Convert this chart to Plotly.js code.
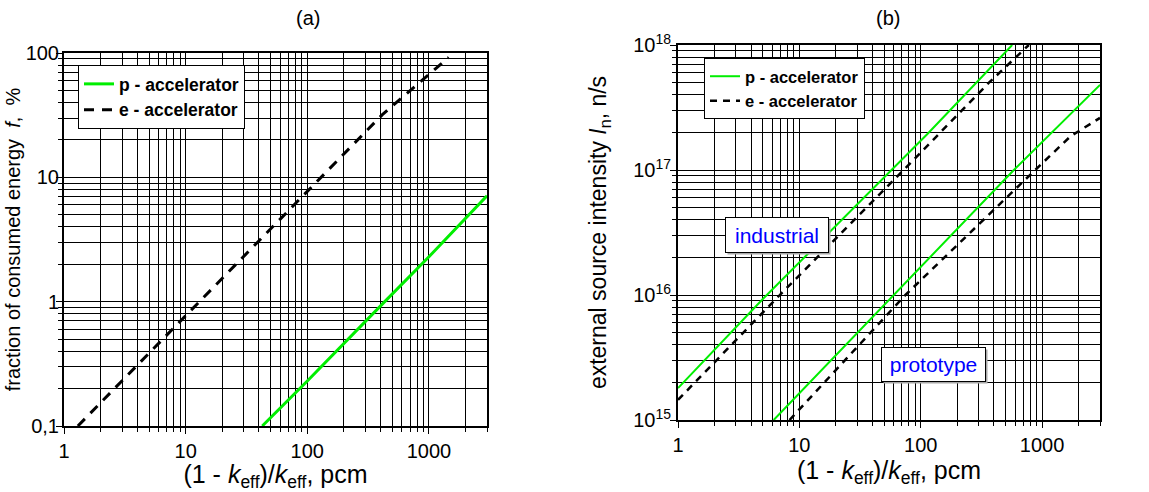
<!DOCTYPE html>
<html>
<head>
<meta charset="utf-8">
<script src="https://cdn.plot.ly/plotly-3.0.1.min.js"></script>
<style>html,body{margin:0;padding:0;background:#fff;}#chart{width:1149px;height:492px;}</style>
</head>
<body>
<div id="chart"></div>
<script>
// ---- data ----
// (a) fraction of consumed energy f, %
const xA_p = [42.6, 100, 433, 1000, 3000];
const fA_p = [0.1, 0.23, 1.0, 2.3, 7.1];
const xA_e = [1.3, 10.9, 37.3, 126, 412, 851, 1456];
const fA_e = [0.1, 0.84, 2.84, 9.6, 31.8, 58.8, 92.3];
// (b) external source intensity In, n/s
const xB_p_ind = [1, 5, 113, 567];
const iB_p_ind = [1.8e15, 9.3e15, 1.93e17, 1e18];
const xB_e_ind = [1, 6.9, 72.4, 363, 777];
const iB_e_ind = [1.45e15, 1e16, 1e17, 4.97e17, 1e18];
const xB_p_pro = [6.14, 59.9, 585, 3000];
const iB_p_pro = [1e15, 1e16, 1e17, 4.8e17];
const xB_e_pro = [8.3, 74.8, 802, 1714, 3000];
const iB_e_pro = [1e15, 1e16, 9.2e16, 1.86e17, 2.61e17];

const xMajor = [1, 10, 100, 1000];
const xMajorText = ['1', '10', '100', '1000'];
const yAMajor = [0.1, 1, 10, 100];
const yAMajorText = ['0,1', '1', '10', '100'];
const yBMajor = [1e15, 1e16, 1e17, 1e18];
const yBMajorText = ['10<sup>15</sup>', '10<sup>16</sup>', '10<sup>17</sup>', '10<sup>18</sup>'];
const seriesNames = ['p - accelerator', 'e - accelerator'];
const panelTitles = ['(a)', '(b)'];
const boxLabels = ['industrial', 'prototype'];

function minorVals(d0, d1) {
  const v = [];
  for (let d = d0; d <= d1; d++) {
    for (let m = 2; m <= 9; m++) v.push(m * Math.pow(10, d));
  }
  return v;
}
const xMinor = minorVals(0, 3).filter(v => v <= 3000);
const yAMinor = minorVals(-1, 1);
const yBMinor = minorVals(15, 17);

const FONT = 'Liberation Sans, Arial, Helvetica, sans-serif';
const GREEN = '#00ee00';

const traces = [
  {x: xA_p, y: fA_p, xaxis: 'x', yaxis: 'y', mode: 'lines', name: seriesNames[0],
   line: {color: GREEN, width: 3}, legend: 'legend'},
  {x: xA_e, y: fA_e, xaxis: 'x', yaxis: 'y', mode: 'lines', name: seriesNames[1],
   line: {color: '#000', width: 3, dash: '10px,8px'}, legend: 'legend'},
  {x: xB_p_ind, y: iB_p_ind, xaxis: 'x2', yaxis: 'y2', mode: 'lines', name: seriesNames[0],
   line: {color: GREEN, width: 2}, legend: 'legend2'},
  {x: xB_e_ind, y: iB_e_ind, xaxis: 'x2', yaxis: 'y2', mode: 'lines', name: seriesNames[1],
   line: {color: '#000', width: 2.5, dash: '7px,6px'}, legend: 'legend2'},
  {x: xB_p_pro, y: iB_p_pro, xaxis: 'x2', yaxis: 'y2', mode: 'lines', name: seriesNames[0],
   line: {color: GREEN, width: 2}, legend: 'legend2', showlegend: false},
  {x: xB_e_pro, y: iB_e_pro, xaxis: 'x2', yaxis: 'y2', mode: 'lines', name: seriesNames[1],
   line: {color: '#000', width: 2.5, dash: '7px,6px'}, legend: 'legend2', showlegend: false}
];

function logAxis(range, domain, major, majorText, minor, anchor, titleText, titleSize, standoff, labelShift) {
  return {
    type: 'log', range: range, domain: domain, anchor: anchor,
    tickmode: 'array', tickvals: major, ticktext: majorText,
    ticks: 'outside', ticklen: 6, tickwidth: 1, tickcolor: '#000',
    ticklabelstandoff: labelShift,
    showgrid: true, gridcolor: '#000', gridwidth: 1,
    minor: {tickmode: 'array', tickvals: minor, ticks: 'outside', ticklen: 4,
            tickcolor: '#000', showgrid: true, gridcolor: '#000', gridwidth: 1},
    showline: true, linecolor: '#000', linewidth: 2, mirror: true,
    zeroline: false,
    tickfont: {family: FONT, size: 20, color: '#000'},
    title: {text: titleText, font: {family: FONT, size: titleSize, color: '#000'}, standoff: standoff}
  };
}

const xTitle = '(1 - <i>k</i><sub>eff</sub>)/<i>k</i><sub>eff</sub>, pcm';
const L = 64, R = 49, T = 45, B = 66, W = 1149, H = 492;
const pw = W - L - R, ph = H - T - B;
const px = v => (v - L) / pw;
const py = v => (H - B - v) / ph;

function boxNote(text, cx, cy, w, h, size, color) {
  return {text: text, x: px(cx), y: py(cy), xref: 'paper', yref: 'paper', showarrow: false,
          xanchor: 'center', yanchor: 'middle', width: w, height: h,
          bgcolor: '#fff', bordercolor: '#000', borderwidth: 1, borderpad: 1,
          font: {family: FONT, size: size, color: color}};
}
function shadow(cx, cy, w, h) {
  return {text: ' ', x: px(cx + 2), y: py(cy + 2), xref: 'paper', yref: 'paper', showarrow: false,
          xanchor: 'center', yanchor: 'middle', width: w, height: h, bgcolor: '#a8a8a8', borderpad: 1};
}

const layout = {
  width: W, height: H,
  margin: {l: L, r: R, t: T, b: B},
  paper_bgcolor: '#fff', plot_bgcolor: '#fff',
  font: {family: FONT, color: '#000'},
  xaxis: logAxis([0, Math.log10(3000)], [0, px(487)], xMajor, xMajorText, xMinor, 'y', xTitle, 25, 2, 0),
  yaxis: logAxis([-1, 2], [py(426), py(53)], yAMajor, yAMajorText, yAMinor, 'x',
                 'fraction of consumed energy\u00a0\u00a0<i>f</i>,\u00a0\u00a0%', 20, 0, -7),
  xaxis2: logAxis([0, Math.log10(3000)], [px(678), px(1100)], xMajor, xMajorText, xMinor, 'y2', xTitle, 25, 2, 0),
  yaxis2: logAxis([15, 18], [py(420), py(45)], yBMajor, yBMajorText, yBMinor, 'x2',
                  'external source intensity <i>I</i><sub>n</sub>, n/s', 23, 20, -5),
  legend: {x: px(78), y: py(65), xanchor: 'left', yanchor: 'top', xref: 'paper', yref: 'paper',
           bgcolor: '#fff', bordercolor: '#000', borderwidth: 1, tracegroupgap: 0,
           font: {family: FONT, size: 17.5, color: '#000', weight: 'bold'}},
  legend2: {x: px(704), y: py(58), xanchor: 'left', yanchor: 'top', xref: 'paper', yref: 'paper',
            bgcolor: '#fff', bordercolor: '#000', borderwidth: 1, tracegroupgap: 0,
            font: {family: FONT, size: 16.5, color: '#000', weight: 'bold'}},
  annotations: [
    {text: panelTitles[0], x: px(308), y: py(18), xref: 'paper', yref: 'paper', showarrow: false,
     xanchor: 'center', yanchor: 'middle', font: {family: FONT, size: 20, color: '#000'}},
    {text: panelTitles[1], x: px(888), y: py(18), xref: 'paper', yref: 'paper', showarrow: false,
     xanchor: 'center', yanchor: 'middle', font: {family: FONT, size: 20, color: '#000'}},
    shadow(777, 235, 100, 32),
    shadow(933.5, 364.5, 101, 31),
    boxNote(boxLabels[0], 777, 235, 100, 32, 21, '#0000ff'),
    boxNote(boxLabels[1], 933.5, 364.5, 101, 31, 21, '#0000ff')
  ]
};

Plotly.newPlot('chart', traces, layout, {displayModeBar: false, staticPlot: true});
</script>
</body>
</html>
